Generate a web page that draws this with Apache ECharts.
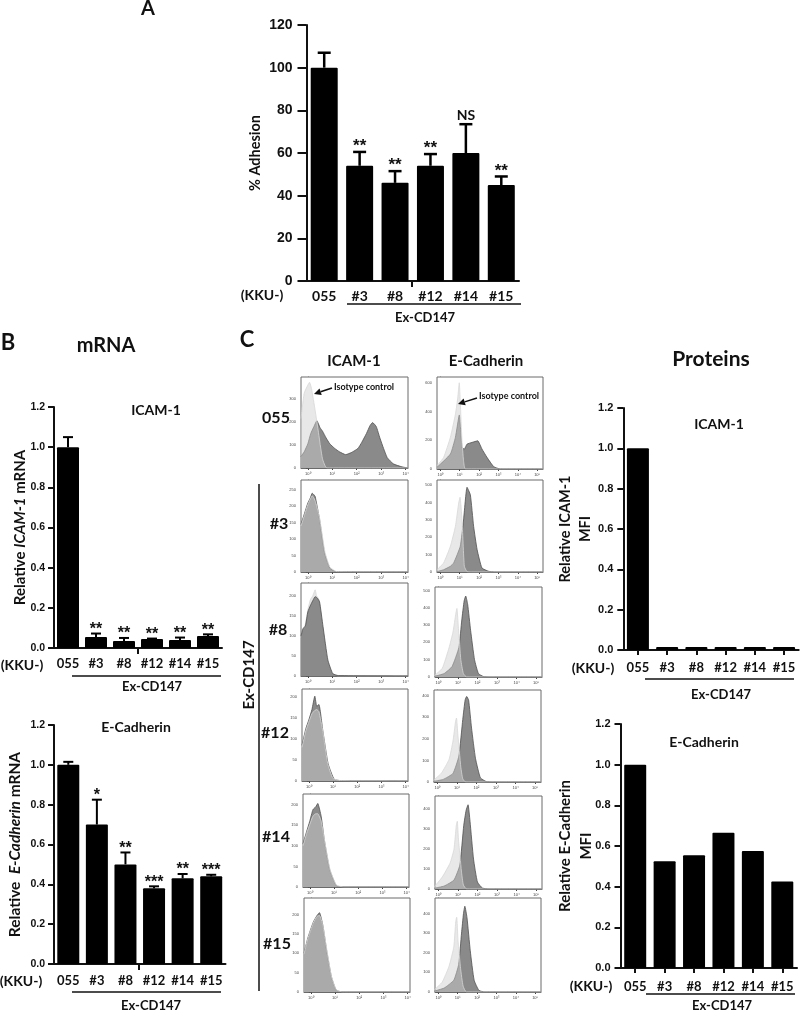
<!DOCTYPE html>
<html>
<head>
<meta charset="utf-8">
<style>html,body{margin:0;padding:0;background:#fff}#c{width:800px;height:1012px}</style>
<script src="https://cdn.jsdelivr.net/npm/echarts@6/dist/echarts.min.js"></script>
</head>
<body>
<div id="c"></div>
<script>
// ---- categories and tick labels
const categories = ['055', '#3', '#8', '#12', '#14', '#15'];
const histXTicks = [0, 1, 2, 3, 4];
const histXTicksE = [0, 1, 2, 3, 4, 5];
const superDigits = ['\u2070', '\u00b9', '\u00b2', '\u00b3', '\u2074', '\u2075'];

// ---- bar chart values
const adhesion = [100, 54, 46, 54, 60, 45];
const adhesionTop = [107, 60.5, 51.5, 59.5, 73.5, 49];
const adhesionSig = ['', '**', '**', '**', 'NS', '**'];

const icamMrna = [1.0, 0.055, 0.035, 0.045, 0.04, 0.06];
const icamMrnaTop = [1.05, 0.072, 0.05, 0.047, 0.052, 0.068];
const icamMrnaSig = ['', '**', '**', '**', '**', '**'];

const ecadMrna = [1.0, 0.70, 0.50, 0.38, 0.43, 0.44];
const ecadMrnaTop = [1.015, 0.825, 0.56, 0.39, 0.452, 0.448];
const ecadMrnaSig = ['', '*', '**', '***', '**', '***'];

const icamMfi = [1.0, 0.015, 0.015, 0.015, 0.015, 0.015];
const ecadMfi = [1.0, 0.525, 0.555, 0.665, 0.575, 0.425];

// ---- flow histograms: [log10 intensity, count]; sample then isotype
const icam055S = [[-0.28,50],[-0.15,70],[0,105],[0.12,150],[0.25,180],[0.37,205],[0.5,175],[0.6,160],[0.75,130],[0.9,105],[1.1,85],[1.3,70],[1.55,58],[1.8,68],[2.05,85],[2.2,110],[2.4,150],[2.55,185],[2.65,197],[2.8,180],[2.95,130],[3.1,85],[3.25,45],[3.5,18],[3.85,5],[4.1,0]];
const icam055I = [[-0.28,215],[-0.15,325],[0,360],[0.07,372],[0.15,345],[0.3,250],[0.42,165],[0.6,40],[0.78,0],[4.1,0]];
const icam3S = [[-0.28,145],[-0.13,180],[0,210],[0.1,225],[0.18,240],[0.25,235],[0.3,230],[0.48,160],[0.68,60],[0.9,12],[1.15,1],[4.1,0]];
const icam3I = [[-0.28,140],[-0.13,175],[0,205],[0.1,222],[0.18,232],[0.25,225],[0.32,212],[0.48,165],[0.7,62],[0.9,15],[1.2,1],[4.1,0]];
const icam8S = [[-0.28,100],[-0.2,118],[-0.1,125],[0,160],[0.12,178],[0.22,190],[0.3,198],[0.38,195],[0.48,185],[0.62,124],[0.82,40],[1.02,6],[1.25,1],[4.1,0]];
const icam8I = [[-0.28,95],[-0.2,115],[-0.1,130],[0,165],[0.1,190],[0.2,200],[0.3,215],[0.36,200],[0.46,190],[0.6,125],[0.8,38],[1,5],[1.25,0],[4.1,0]];
const icam12S = [[-0.28,85],[-0.12,125],[0,145],[0.13,170],[0.25,202],[0.33,178],[0.42,182],[0.58,120],[0.8,41],[1.05,4],[1.3,1],[4.1,0]];
const icam12I = [[-0.28,80],[-0.12,120],[0,140],[0.13,160],[0.25,168],[0.33,170],[0.42,165],[0.58,118],[0.78,42],[1,6],[1.3,1],[4.1,0]];
const icam14S = [[-0.28,105],[-0.13,135],[0,160],[0.13,188],[0.25,195],[0.33,203],[0.47,172],[0.6,115],[0.82,43],[1.1,3],[1.4,0],[4.1,0]];
const icam14I = [[-0.28,100],[-0.13,130],[0,152],[0.13,172],[0.25,178],[0.33,178],[0.47,160],[0.62,110],[0.84,42],[1.1,5],[1.4,0],[4.1,0]];
const icam15S = [[-0.28,100],[-0.12,140],[0.1,180],[0.25,197],[0.36,205],[0.5,172],[0.65,110],[0.85,40],[1.05,5],[1.3,0],[4.1,0]];
const icam15I = [[-0.28,98],[-0.12,138],[0.1,178],[0.25,195],[0.36,198],[0.5,172],[0.65,115],[0.85,42],[1.05,6],[1.3,0],[4.1,0]];

const ecad055S = [[-0.17,12],[0.52,104],[0.78,220],[0.98,376],[1.12,150],[1.24,139],[1.38,173],[1.64,185],[1.93,196],[2.15,139],[2.41,81],[2.76,16],[3.1,0],[5.3,0]];
const ecad055I = [[-0.17,23],[0.17,80],[0.52,220],[0.78,380],[0.9,495],[0.98,600],[1.03,470],[1.12,196],[1.2,58],[1.3,0],[5.3,0]];
const ecad3S = [[-0.17,2],[0.17,13],[0.52,33],[0.69,52],[1.03,148],[1.2,300],[1.38,488],[1.55,445],[1.72,263],[1.9,129],[2.15,23],[2.5,4],[2.8,0],[5.3,0]];
const ecad3I = [[-0.17,13],[0.17,52],[0.52,148],[0.78,263],[0.95,398],[1.02,430],[1.12,300],[1.24,33],[1.38,2],[1.6,0],[5.3,0]];
const ecad8S = [[-0.2,4],[0.3,20],[0.7,60],[1.05,170],[1.2,330],[1.32,440],[1.4,468],[1.5,420],[1.65,270],[1.85,100],[2.05,20],[2.3,3],[2.6,0],[5.3,0]];
const ecad8I = [[-0.2,8],[0.2,50],[0.55,170],[0.75,260],[0.9,370],[0.95,396],[1.03,280],[1.15,100],[1.28,20],[1.45,0],[5.3,0]];
const ecad12S = [[-0.2,3],[0.3,12],[0.8,40],[1.1,120],[1.3,290],[1.42,380],[1.5,397],[1.6,380],[1.75,250],[1.95,110],[2.2,20],[2.5,2],[2.8,0],[5.3,0]];
const ecad12I = [[-0.2,8],[0.2,40],[0.6,105],[0.8,190],[0.93,280],[0.98,297],[1.05,220],[1.2,70],[1.3,15],[1.45,0],[5.3,0]];
const ecad14S = [[-0.2,4],[0.3,15],[0.8,45],[1.1,120],[1.3,320],[1.42,395],[1.52,423],[1.62,340],[1.8,150],[2,35],[2.25,5],[2.6,0],[5.3,0]];
const ecad14I = [[-0.2,12],[0.2,60],[0.6,130],[0.8,200],[0.92,320],[0.97,340],[1.03,250],[1.18,90],[1.28,20],[1.45,0],[5.3,0]];
const ecad15S = [[-0.2,5],[0.3,20],[0.8,60],[1.05,140],[1.2,300],[1.3,400],[1.37,437],[1.48,380],[1.65,210],[1.85,60],[2.1,8],[2.4,0],[5.3,0]];
const ecad15I = [[-0.2,12],[0.2,50],[0.55,130],[0.8,230],[0.9,360],[0.95,381],[1.02,260],[1.15,120],[1.28,30],[1.45,0],[5.3,0]];

const ARIAL = '"Liberation Sans", Arial, sans-serif';
const CAL = 'Lato, "Open Sans", sans-serif';

const grid = [], xAxis = [], yAxis = [], series = [];

function barPanel(c) {
  const g = grid.length;
  grid.push({left: c.x0, top: c.yTop, width: c.x1 - c.x0, height: c.yBase - c.yTop, containLabel: false});
  xAxis.push({
    gridIndex: g, type: 'category', data: categories,
    axisLine: {onZero: false, lineStyle: {color: '#111', width: 2}},
    axisTick: {show: !!c.xTicks, length: 5, alignWithLabel: true, lineStyle: {color: '#111', width: 2}},
    axisLabel: {interval: 0, margin: c.xMargin, fontFamily: CAL, fontWeight: 'bold', fontSize: c.xFont, color: '#111'}
  });
  yAxis.push({
    gridIndex: g, type: 'value', min: 0, max: c.max, interval: c.step,
    name: c.name, nameLocation: 'middle', nameGap: c.nameGap, nameRotate: 90, nameMoveOverlap: false,
    nameTextStyle: {fontFamily: CAL, fontSize: c.nameFont, fontWeight: c.nameWeight || 'bold', color: '#111', lineHeight: c.nameLH || 18,
      rich: {n: {fontFamily: CAL, fontSize: c.nameFont, fontWeight: 'bold', color: '#111'},
             i: {fontFamily: CAL, fontSize: c.nameFont, fontWeight: 'bold', fontStyle: 'italic', color: '#111'}}},
    splitLine: {show: false},
    axisLine: {show: true, lineStyle: {color: '#111', width: 2}},
    axisTick: {show: true, length: c.tickLen, lineStyle: {color: '#111', width: 2}},
    axisLabel: {margin: c.yMargin, fontFamily: ARIAL, fontWeight: 'bold', fontSize: c.yFont, color: '#111',
      formatter: c.dec ? (v => v.toFixed(c.dec)) : (v => String(v))}
  });
  series.push({type: 'bar', xAxisIndex: g, yAxisIndex: g, data: c.values, barWidth: c.barWidth, z: 3,
    itemStyle: {color: '#000', borderRadius: 1}, silent: true, animation: false});
  if (c.tops) {
    series.push({
      type: 'custom', xAxisIndex: g, yAxisIndex: g, z: 2, silent: true, animation: false, clip: false,
      data: c.values.map((v, i) => [i, v, c.tops[i]]),
      encode: {x: 0, y: [1, 2]},
      renderItem(params, api) {
        const i = api.value(0);
        const b = api.coord([i, api.value(1)]);
        const t = api.coord([i, api.value(2)]);
        const lw = c.errW, cap = c.cap;
        const sig = c.sig[params.dataIndex];
        const big = sig === 'NS';
        return {type: 'group', children: [
          {type: 'line', shape: {x1: b[0], y1: b[1], x2: t[0], y2: t[1]}, style: {stroke: '#000', lineWidth: lw}},
          {type: 'line', shape: {x1: t[0] - cap, y1: t[1], x2: t[0] + cap, y2: t[1]}, style: {stroke: '#000', lineWidth: lw}},
          {type: 'text', style: {text: sig, x: t[0], y: big ? t[1] - 2 : t[1] + c.sigDy, align: 'center', verticalAlign: 'bottom',
            fill: '#111', font: big ? 'bold 14px ' + CAL : 'bold ' + c.sigFont + 'px ' + ARIAL}}
        ]};
      }
    });
  }
}

function histPanel(c) {
  const g = grid.length;
  grid.push({left: c.l, top: c.t, width: c.r - c.l, height: c.b - c.t, show: true,
    borderColor: '#6a6a6a', borderWidth: 1, backgroundColor: '#fff', z: 1});
  const ticks = c.decades;
  xAxis.push({gridIndex: g, type: 'value', min: c.xMin, max: c.xMax, splitLine: {show: false},
    axisLine: {show: true, onZero: false, lineStyle: {color: '#6a6a6a', width: 1}},
    axisTick: {show: true, length: 2, customValues: ticks, lineStyle: {color: '#444', width: 1}},
    axisLabel: {show: true, customValues: ticks, margin: 4, fontSize: 4, fontFamily: ARIAL, color: '#444',
      formatter: v => '10' + superDigits[v]}
  });
  yAxis.push({gridIndex: g, type: 'value', min: 0, max: c.yMax, splitLine: {show: false},
    axisLine: {show: true, lineStyle: {color: '#6a6a6a', width: 1}},
    axisTick: {show: true, length: 2, customValues: c.yTicks, lineStyle: {color: '#444', width: 1}},
    axisLabel: {show: true, customValues: c.yTicks, margin: 5, fontSize: 4, fontFamily: ARIAL, color: '#444'}
  });
  const sample = {type: 'line', xAxisIndex: g, yAxisIndex: g, data: c.s, symbol: 'none', smooth: 0.15, silent: true, animation: false,
    lineStyle: {color: '#505050', width: 0.8}, areaStyle: {color: '#8a8a8a', opacity: 1}, z: 3};
  const iso = {type: 'line', xAxisIndex: g, yAxisIndex: g, data: c.i, symbol: 'none', smooth: 0.15, silent: true, animation: false,
    lineStyle: {color: '#d8d8d8', width: 0.8}, areaStyle: {color: 'rgb(206,206,206)', opacity: 0.47}, z: 4};
  if (c.isoBehind) {
    iso.z = 2; iso.areaStyle = {color: '#e6e6e6', opacity: 1};
  }
  series.push(sample, iso);
}

// ---- bar panels
barPanel({x0: 306.5, x1: 519, yTop: 25, yBase: 281, max: 120, step: 20, values: adhesion, tops: adhesionTop, sig: adhesionSig,
  barWidth: 27, errW: 2.5, cap: 6.5, sigDy: 3, sigFont: 17, tickLen: 9, yMargin: 14, yFont: 14, xMargin: 8, xFont: 14,
  name: '% Adhesion', nameFont: 14.5, nameGap: 42});
barPanel({x0: 54, x1: 222, yTop: 407, yBase: 648, max: 1.2, step: 0.2, dec: 1, values: icamMrna, tops: icamMrnaTop, sig: icamMrnaSig,
  barWidth: 22, errW: 2, cap: 5, sigDy: 4, sigFont: 16, tickLen: 6, yMargin: 9, yFont: 10.5, xMargin: 9, xFont: 13,
  name: '{n|Relative }{i|ICAM-1}{n| mRNA}', nameFont: 15, nameGap: 25});
barPanel({x0: 54, x1: 225.5, yTop: 725, yBase: 964, max: 1.2, step: 0.2, dec: 1, values: ecadMrna, tops: ecadMrnaTop, sig: ecadMrnaSig,
  barWidth: 22, errW: 2, cap: 5, sigDy: 4, sigFont: 16, tickLen: 6, yMargin: 9, yFont: 10.5, xMargin: 10, xFont: 13,
  name: '{n|Relative  }{i|E-Cadherin}{n| mRNA}', nameFont: 15.5, nameGap: 30});
barPanel({x0: 623.3, x1: 798.7, yTop: 408, yBase: 650, max: 1.2, step: 0.2, dec: 1, values: icamMfi, xTicks: true,
  barWidth: 22, tickLen: 6, yMargin: 10, yFont: 11, xMargin: 11, xFont: 13,
  name: 'Relative ICAM-1\nMFI', nameFont: 14.5, nameGap: 28, nameLH: 20});
barPanel({x0: 620.5, x1: 797, yTop: 724, yBase: 968, max: 1.2, step: 0.2, dec: 1, values: ecadMfi, xTicks: true,
  barWidth: 22, tickLen: 6, yMargin: 10, yFont: 11, xMargin: 12, xFont: 13,
  name: 'Relative E-Cadherin\nMFI', nameFont: 15, nameGap: 24, nameLH: 21});

// ---- histogram panels
const IX = {xMin: -0.28, xMax: 4.1, decades: histXTicks};
const EX = {xMin: -0.17, xMax: 5.3, decades: histXTicksE};
histPanel({...IX, l: 301, r: 408, t: 377, b: 468, yMax: 395, yTicks: [0,100,200,300], s: icam055S, i: icam055I});
histPanel({...EX, l: 437, r: 543, t: 377, b: 469, yMax: 640, yTicks: [0,200,400,600], s: ecad055S, i: ecad055I});
histPanel({...IX, l: 301, r: 408, t: 480, b: 572, yMax: 280, yTicks: [0,50,100,150,200,250], s: icam3S, i: icam3I});
histPanel({...EX, l: 437, r: 543, t: 480, b: 572, yMax: 530, yTicks: [0,100,200,300,400,500], s: ecad3S, i: ecad3I});
histPanel({...IX, l: 301, r: 408, t: 583, b: 676, yMax: 232, yTicks: [0,50,100,150,200], s: icam8S, i: icam8I, isoBehind: true});
histPanel({...EX, l: 435, r: 542, t: 587, b: 677, yMax: 520, yTicks: [0,100,200,300,400,500], s: ecad8S, i: ecad8I});
histPanel({...IX, l: 302, r: 408, t: 689, b: 781, yMax: 219, yTicks: [0,50,100,150,200], s: icam12S, i: icam12I});
histPanel({...EX, l: 434, r: 541, t: 690, b: 782, yMax: 427, yTicks: [0,100,200,300,400], s: ecad12S, i: ecad12I});
histPanel({...IX, l: 303, r: 409, t: 794, b: 887, yMax: 226, yTicks: [0,50,100,150,200], s: icam14S, i: icam14I});
histPanel({...EX, l: 435, r: 542, t: 796, b: 889, yMax: 467, yTicks: [0,100,200,300,400], s: ecad14S, i: ecad14I});
histPanel({...IX, l: 304, r: 410, t: 898, b: 992, yMax: 243, yTicks: [0,50,100,150,200], s: icam15S, i: icam15I});
histPanel({...EX, l: 435, r: 541, t: 898, b: 992, yMax: 479, yTicks: [0,100,200,300,400], s: ecad15S, i: ecad15I});

// ---- annotations
function txt(s, x, y, size, extra) {
  return Object.assign({type: 'text', z: 50, silent: true,
    style: {text: s, x, y, align: 'center', verticalAlign: 'middle', font: 'bold ' + size + 'px ' + CAL, fill: '#111'}}, extra || {});
}
function rule(x1, y1, x2, y2, w) {
  return {type: 'line', z: 50, silent: true, shape: {x1, y1, x2, y2}, style: {stroke: '#111', lineWidth: w || 1.5}};
}
function arrow(x1, y1, x2, y2) {
  const a = Math.atan2(y2 - y1, x2 - x1), L = 7, W = 3.5;
  const bx = x2 - L * Math.cos(a), by = y2 - L * Math.sin(a);
  const nx = -Math.sin(a) * W, ny = Math.cos(a) * W;
  return [rule(x1, y1, bx, by, 1.5),
    {type: 'polygon', z: 50, silent: true, shape: {points: [[x2, y2], [bx + nx, by + ny], [bx - nx, by - ny]]}, style: {fill: '#111'}}];
}
const graphic = [
  txt('A', 148, 9, 20), txt('B', 8, 343, 22), txt('C', 247, 340, 22),
  txt('mRNA', 106, 346, 20), txt('Proteins', 711, 359, 21),
  txt('(KKU-)', 262, 295, 14), rule(347, 304, 521, 304), txt('Ex-CD147', 425, 318, 13), rule(412, 281, 412, 287, 2),
  txt('ICAM-1', 156, 410, 14), txt('(KKU-)', 22, 665, 14), rule(72, 676, 221, 676), txt('Ex-CD147', 152, 687, 13), rule(138, 648, 138, 654, 2),
  txt('E-Cadherin', 136, 727, 14), txt('(KKU-)', 21, 981, 14), rule(72, 992, 221, 992), txt('Ex-CD147', 151, 1006, 13), rule(139, 964, 139, 970, 2),
  txt('ICAM-1', 719, 424, 14), txt('(KKU-)', 593, 668, 14), rule(645, 679, 794, 679), txt('Ex-CD147', 721, 695, 13),
  txt('E-Cadherin', 704, 742, 14), txt('(KKU-)', 591, 986, 14), rule(646, 994, 795, 994), txt('Ex-CD147', 722, 1006, 13),
  txt('ICAM-1', 354, 361, 15), txt('E-Cadherin', 486, 361, 15),
  txt('055', 276, 418, 16), txt('#3', 279, 524, 16), txt('#8', 278, 630, 16), txt('#12', 275, 733, 16), txt('#14', 276, 837, 16), txt('#15', 277, 944, 16),
  txt('Ex-CD147', 0, 0, 15, {rotation: Math.PI / 2, x: 249, y: 675}),
  rule(259, 484, 259, 991, 1.5),
  txt('Isotype control', 364, 387, 9), txt('Isotype control', 509, 396, 9),
  ...arrow(332, 388, 314, 394), ...arrow(477, 398, 458, 404)
];

const chart = echarts.init(document.getElementById('c'), null, {renderer: 'canvas', width: 800, height: 1012});
chart.setOption({animation: false, backgroundColor: '#fff', tooltip: {show: false}, grid, xAxis, yAxis, series, graphic});
</script>
</body>
</html>
